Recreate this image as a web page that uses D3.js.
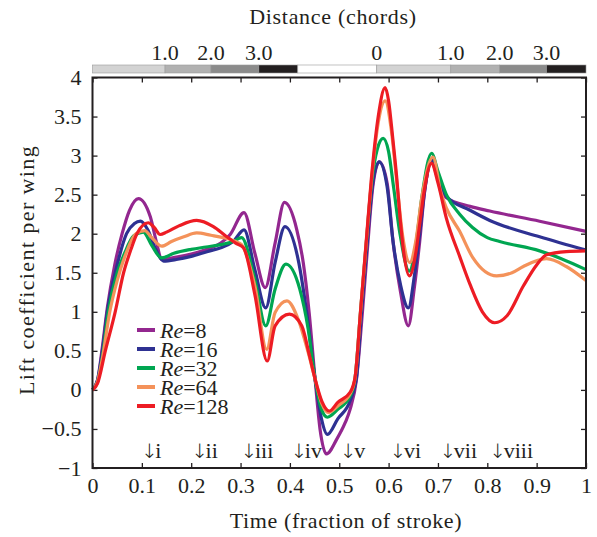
<html>
<head>
  <title>Lift coefficient per wing</title>
  <script src="https://cdnjs.cloudflare.com/ajax/libs/d3/7.8.5/d3.min.js"></script>
  <style>
    body { margin: 0; background: #fff; }
    text { font-family: "Liberation Serif", "DejaVu Serif", serif; fill: #231f20; }
  </style>
</head>
<body>
<script type="text/javascript">
  // tick labels
  var xTicks = [0, 0.1, 0.2, 0.3, 0.4, 0.5, 0.6, 0.7, 0.8, 0.9, 1];
  var xTickLabels = ["0", "0.1", "0.2", "0.3", "0.4", "0.5", "0.6", "0.7", "0.8", "0.9", "1"];
  var yTicks = [-1, -0.5, 0, 0.5, 1, 1.5, 2, 2.5, 3, 3.5, 4];
  var yTickLabels = ["\u22121", "\u22120.5", "0", "0.5", "1", "1.5", "2", "2.5", "3", "3.5", "4"];

  // distance bar (time of each break, and shade level 0..3, -1 = none)
  var distBreaks = [0, 0.147, 0.24, 0.337, 0.416, 0.576, 0.726, 0.825, 0.92, 1];
  var distLevel = [0, 1, 2, 3, -1, 0, 1, 2, 3];
  var distTickT = [0.147, 0.24, 0.337, 0.576, 0.726, 0.825, 0.92];
  var distTickLabels = ["1.0", "2.0", "3.0", "0", "1.0", "2.0", "3.0"];

  // arrows
  var arrowT = [0.115, 0.217, 0.317, 0.418, 0.518, 0.619, 0.72, 0.821];
  var arrowLabels = ["i", "ii", "iii", "iv", "v", "vi", "vii", "viii"];

  // series
  var reNames = ["8", "16", "32", "64", "128"];

  var time8 = [0, 0.01, 0.02, 0.03, 0.045, 0.06, 0.075, 0.093, 0.117, 0.13, 0.14, 0.17, 0.2, 0.232, 0.26, 0.279, 0.307, 0.329, 0.35, 0.37, 0.389, 0.414, 0.427, 0.439, 0.451, 0.461, 0.474, 0.495, 0.512, 0.522, 0.535, 0.547, 0.557, 0.568, 0.581, 0.597, 0.609, 0.624, 0.64, 0.652, 0.663, 0.673, 0.687, 0.7, 0.717, 0.765, 0.805, 0.906, 1];
  var lift8 = [0, 0.12, 0.55, 1.05, 1.6, 2.0, 2.3, 2.45, 2.22, 1.88, 1.67, 1.7, 1.74, 1.8, 1.88, 1.99, 2.27, 1.75, 1.31, 1.88, 2.40, 2.05, 1.63, 0.99, 0.14, -0.5, -0.82, -0.63, -0.42, -0.25, 0.14, 1.0, 1.8, 2.6, 2.92, 2.65, 1.9, 1.26, 0.82, 1.3, 1.9, 2.54, 2.92, 2.7, 2.46, 2.35, 2.29, 2.16, 2.03];

  var time16 = [0, 0.01, 0.02, 0.03, 0.05, 0.069, 0.085, 0.097, 0.112, 0.128, 0.144, 0.17, 0.2, 0.232, 0.26, 0.285, 0.307, 0.329, 0.351, 0.37, 0.39, 0.418, 0.434, 0.451, 0.464, 0.476, 0.497, 0.522, 0.535, 0.545, 0.556, 0.568, 0.581, 0.597, 0.609, 0.624, 0.64, 0.652, 0.663, 0.673, 0.688, 0.7, 0.717, 0.765, 0.805, 0.906, 1];
  var lift16 = [0, 0.12, 0.5, 1.0, 1.6, 2.0, 2.13, 2.16, 2.05, 1.8, 1.65, 1.67, 1.71, 1.77, 1.82, 1.9, 2.05, 1.54, 1.05, 1.63, 2.09, 1.63, 0.99, 0.14, -0.37, -0.57, -0.37, -0.14, 0.16, 0.99, 1.84, 2.65, 2.92, 2.6, 1.9, 1.35, 1.05, 1.45, 2.0, 2.55, 2.95, 2.72, 2.48, 2.3, 2.17, 1.96, 1.79];

  var time32 = [0, 0.01, 0.02, 0.032, 0.05, 0.065, 0.083, 0.103, 0.12, 0.14, 0.165, 0.2, 0.23, 0.26, 0.285, 0.302, 0.329, 0.351, 0.37, 0.392, 0.42, 0.437, 0.451, 0.464, 0.476, 0.497, 0.522, 0.532, 0.543, 0.554, 0.565, 0.577, 0.589, 0.6, 0.61, 0.623, 0.642, 0.655, 0.667, 0.687, 0.7, 0.717, 0.744, 0.77, 0.8, 0.825, 0.906, 0.95, 1];
  var lift32 = [0, 0.1, 0.42, 1.0, 1.5, 1.75, 1.97, 2.02, 1.85, 1.69, 1.75, 1.8, 1.83, 1.86, 1.9, 1.95, 1.41, 0.82, 1.29, 1.61, 1.29, 0.78, 0.14, -0.25, -0.35, -0.25, -0.08, 0.15, 0.99, 1.82, 2.62, 3.08, 3.22, 3.05, 2.6, 2.0, 1.52, 1.85, 2.45, 3.03, 2.8, 2.5, 2.25, 2.08, 1.95, 1.9, 1.78, 1.68, 1.54];

  var time64 = [0, 0.01, 0.02, 0.035, 0.05, 0.065, 0.088, 0.106, 0.12, 0.14, 0.16, 0.185, 0.211, 0.24, 0.265, 0.29, 0.302, 0.329, 0.353, 0.37, 0.394, 0.417, 0.437, 0.451, 0.465, 0.478, 0.498, 0.522, 0.532, 0.543, 0.554, 0.565, 0.579, 0.593, 0.605, 0.616, 0.629, 0.643, 0.655, 0.667, 0.69, 0.705, 0.717, 0.744, 0.771, 0.819, 0.85, 0.873, 0.92, 0.96, 1];
  var lift64 = [0, 0.1, 0.4, 1.0, 1.4, 1.7, 2.0, 2.04, 1.95, 1.84, 1.9, 1.96, 2.01, 1.98, 1.95, 1.9, 1.86, 1.33, 0.52, 0.99, 1.14, 0.90, 0.48, 0.14, -0.18, -0.29, -0.2, -0.05, 0.15, 0.99, 1.83, 2.66, 3.42, 3.70, 3.35, 2.7, 1.95, 1.63, 1.9, 2.45, 2.98, 2.55, 2.33, 2.03, 1.69, 1.46, 1.5, 1.58, 1.68, 1.58, 1.40];

  var time128 = [0, 0.01, 0.026, 0.046, 0.063, 0.078, 0.09, 0.113, 0.125, 0.137, 0.15, 0.175, 0.211, 0.245, 0.27, 0.29, 0.306, 0.329, 0.354, 0.37, 0.399, 0.424, 0.44, 0.451, 0.465, 0.48, 0.497, 0.522, 0.532, 0.543, 0.554, 0.565, 0.579, 0.593, 0.6, 0.608, 0.616, 0.624, 0.632, 0.642, 0.655, 0.663, 0.672, 0.687, 0.7, 0.717, 0.744, 0.765, 0.79, 0.815, 0.84, 0.873, 0.9, 0.92, 0.96, 1];
  var lift128 = [0, 0.08, 0.5, 1.0, 1.5, 1.8, 2.0, 2.14, 2.08, 1.99, 2.02, 2.1, 2.17, 2.09, 1.97, 1.88, 1.82, 1.22, 0.37, 0.82, 0.97, 0.82, 0.43, 0.14, -0.15, -0.27, -0.16, -0.03, 0.16, 1.0, 1.85, 2.7, 3.5, 3.87, 3.7, 3.25, 2.75, 2.15, 1.7, 1.46, 1.75, 2.12, 2.54, 2.90, 2.65, 2.2, 1.71, 1.35, 1.0, 0.86, 0.95, 1.33, 1.6, 1.73, 1.77, 1.78];

  var series = [
    { name: reNames[0], t: time8, v: lift8, color: "#93278f" },
    { name: reNames[1], t: time16, v: lift16, color: "#2e3192" },
    { name: reNames[2], t: time32, v: lift32, color: "#00a651" },
    { name: reNames[3], t: time64, v: lift64, color: "#f4925a" },
    { name: reNames[4], t: time128, v: lift128, color: "#ed1c24" }
  ];

  var width = 597, height = 537;
  var plotL = 92.5, plotR = 586, plotT = 77.5, plotB = 468;

  var svg = d3.select("body")
    .append("svg")
    .attr("width", width)
    .attr("height", height);

  var x = d3.scaleLinear().domain([0, 1]).range([plotL, plotR]);
  var y = d3.scaleLinear().domain([-1, 4]).range([plotB, plotT]);

  // distance bar
  var shade = ["#d3d3d3", "#b1b1b1", "#8b8b8b", "#231f20"];
  svg.append("g").selectAll("rect")
    .data(distLevel)
    .enter().append("rect")
    .attr("x", function (d, i) { return x(distBreaks[i]); })
    .attr("y", 65)
    .attr("width", function (d, i) { return x(distBreaks[i + 1]) - x(distBreaks[i]); })
    .attr("height", 8)
    .attr("fill", function (d) { return d < 0 ? "#fff" : shade[d]; })
    .attr("stroke", "#9a9a9a")
    .attr("stroke-width", 0.6);

  svg.append("g").selectAll("text")
    .data(distTickT)
    .enter().append("text")
    .attr("x", function (d) { return x(d); })
    .attr("y", 60)
    .attr("text-anchor", "middle")
    .style("font-size", "22px")
    .text(function (d, i) { return distTickLabels[i]; });

  svg.append("text")
    .attr("x", 333)
    .attr("y", 24)
    .attr("text-anchor", "middle")
    .style("font-size", "22px")
    .style("letter-spacing", "0.7px")
    .text("Distance (chords)");

  // axes, ticks inward on all sides
  svg.append("g")
    .attr("transform", "translate(0," + plotB + ")")
    .call(d3.axisBottom(x).tickValues(xTicks).tickSize(-5).tickPadding(9)
      .tickFormat(function (d, i) { return xTickLabels[i]; }));
  svg.append("g")
    .attr("transform", "translate(0," + plotT + ")")
    .call(d3.axisTop(x).tickValues(xTicks).tickSize(-5).tickFormat(""));
  svg.append("g")
    .attr("transform", "translate(" + plotL + ",0)")
    .call(d3.axisLeft(y).tickValues(yTicks).tickSize(-5).tickPadding(11)
      .tickFormat(function (d, i) { return yTickLabels[i]; }));
  svg.append("g")
    .attr("transform", "translate(" + plotR + ",0)")
    .call(d3.axisRight(y).tickValues(yTicks).tickSize(-5).tickFormat(""));

  svg.selectAll(".domain").remove();
  svg.selectAll(".tick line").attr("stroke", "#231f20").attr("stroke-width", 1.3);
  svg.selectAll(".tick text")
    .style("font-family", "'Liberation Serif', 'DejaVu Serif', serif")
    .style("font-size", "22px")
    .attr("fill", "#231f20");

  // curves
  var line = d3.line()
    .x(function (d) { return x(d[0]); })
    .y(function (d) { return y(d[1]); })
    .curve(d3.curveMonotoneX);

  svg.append("g").selectAll("path")
    .data(series)
    .enter().append("path")
    .attr("d", function (s) { return line(d3.zip(s.t, s.v)); })
    .attr("fill", "none")
    .attr("stroke", function (s) { return s.color; })
    .attr("stroke-width", 3.2)
    .attr("stroke-linejoin", "round");

  // frame
  svg.append("rect")
    .attr("x", plotL)
    .attr("y", plotT)
    .attr("width", plotR - plotL)
    .attr("height", plotB - plotT)
    .attr("fill", "none")
    .attr("stroke", "#231f20")
    .attr("stroke-width", 2);

  // arrows
  var arr = svg.append("g").selectAll("g")
    .data(arrowT)
    .enter().append("g")
    .attr("transform", function (d) { return "translate(" + x(d) + ",458)"; });
  arr.append("text")
    .attr("text-anchor", "middle")
    .style("font-family", "'DejaVu Sans', sans-serif")
    .style("font-weight", "200")
    .style("font-size", "20px")
    .text("\u2193");
  arr.append("text")
    .attr("x", 6)
    .style("font-size", "22px")
    .text(function (d, i) { return arrowLabels[i]; });

  // legend
  var leg = svg.append("g").selectAll("g")
    .data(series)
    .enter().append("g")
    .attr("transform", function (d, i) { return "translate(0," + (330 + i * 19) + ")"; });
  leg.append("line")
    .attr("x1", 137).attr("x2", 155)
    .attr("stroke", function (s) { return s.color; })
    .attr("stroke-width", 4);
  var lt = leg.append("text")
    .attr("x", 160)
    .attr("y", 8)
    .style("font-size", "22px");
  lt.append("tspan").style("font-style", "italic").text("Re");
  lt.append("tspan").text(function (s) { return "=" + s.name; });

  // axis titles
  svg.append("text")
    .attr("x", 346)
    .attr("y", 528)
    .attr("text-anchor", "middle")
    .style("font-size", "22px")
    .style("letter-spacing", "0.6px")
    .text("Time (fraction of stroke)");

  svg.append("text")
    .attr("transform", "translate(34,270) rotate(-90)")
    .attr("text-anchor", "middle")
    .style("font-size", "22px")
    .style("letter-spacing", "1.4px")
    .text("Lift coefficient per wing");
</script>
</body>
</html>
